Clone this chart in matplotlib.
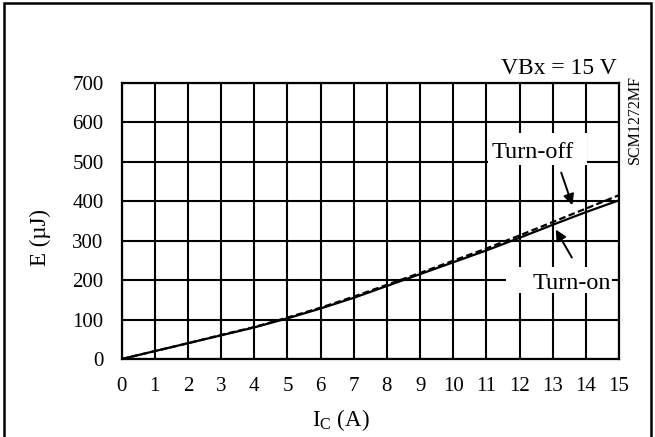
import matplotlib
matplotlib.use("Agg")
import matplotlib.pyplot as plt
from matplotlib.patches import Rectangle

# data
ic = [0, 1, 2, 3, 4, 5, 6, 7, 8, 9, 10, 11, 12, 13, 14, 15]
e_on = [0, 20, 40, 60, 80, 103, 128, 155, 185, 215, 245, 275, 307, 340, 372, 402]
e_off = [0, 20, 40, 61, 81, 105, 130, 158, 188, 218, 249, 280, 313, 347, 381, 415]
xticks = list(range(0, 16))
yticks = list(range(0, 701, 100))

plt.rcParams['font.family'] = ['Liberation Serif', 'DejaVu Serif']
W, H = 655, 437
fig = plt.figure(figsize=(W / 100, H / 100), dpi=100)
ax = fig.add_axes([121.7 / W, 1 - 359 / H, (619 - 121.7) / W, (359 - 82.7) / H])

ax.plot(ic, e_on, color='black', lw=1.6, zorder=3)
ax.plot(ic, e_off, color='black', lw=1.6, ls=(0, (3, 1.5)), zorder=3)

ax.set_xlim(0, 15)
ax.set_ylim(0, 700)
ax.set_xticks(xticks)
ax.set_yticks(yticks)
ax.tick_params(length=0, labelsize=15)
ax.tick_params(axis='y', pad=13)
ax.tick_params(axis='x', pad=13)
ax.grid(True, color='black', lw=1.5)
for s in ax.spines.values():
    s.set_linewidth(1.6)

fig.text(341 / W, 1 - 420 / H, r'I$_\mathregular{C}$ (A)', ha='center', va='center', fontsize=16.5)
fig.text(40 / W, 1 - 238 / H, 'E (µJ)', rotation=90, ha='center', va='center', fontsize=16.5)
fig.text(617 / W, 1 - 68 / H, 'VBx = 15 V', ha='right', va='center', fontsize=17)
fig.text(635 / W, 1 - 120 / H, 'SCM1272MF', rotation=90, ha='center', va='center', fontsize=11.5)

# white patches behind the labels, cutting the grid
ax.add_patch(Rectangle((11.06, 491), 2.98, 82, facecolor='white', edgecolor='none', zorder=2.5))
ax.add_patch(Rectangle((11.6, 167), 3.2, 66, facecolor='white', edgecolor='none', zorder=2.5))
ax.text(12.39, 524, 'Turn-off', ha='center', va='center', fontsize=17.5, zorder=4)
ax.text(13.59, 192, 'Turn-on', ha='center', va='center', fontsize=17.5, zorder=4)
ax.annotate('', xy=(13.62, 383), xytext=(13.23, 479),
            arrowprops=dict(arrowstyle='-|>', color='black', lw=1.4, mutation_scale=16), zorder=5)
ax.annotate('', xy=(13.05, 334), xytext=(13.62, 251),
            arrowprops=dict(arrowstyle='-|>', color='black', lw=1.4, mutation_scale=16), zorder=5)

# outer frame (bottom edge is cut off in the original)
fig.patches.append(Rectangle((4 / W, -0.02), (651 - 4) / W, 1 - 2.5 / H + 0.02,
                             transform=fig.transFigure, fill=False, edgecolor='black', lw=1.8))

fig.savefig('out.png', dpi=100)
